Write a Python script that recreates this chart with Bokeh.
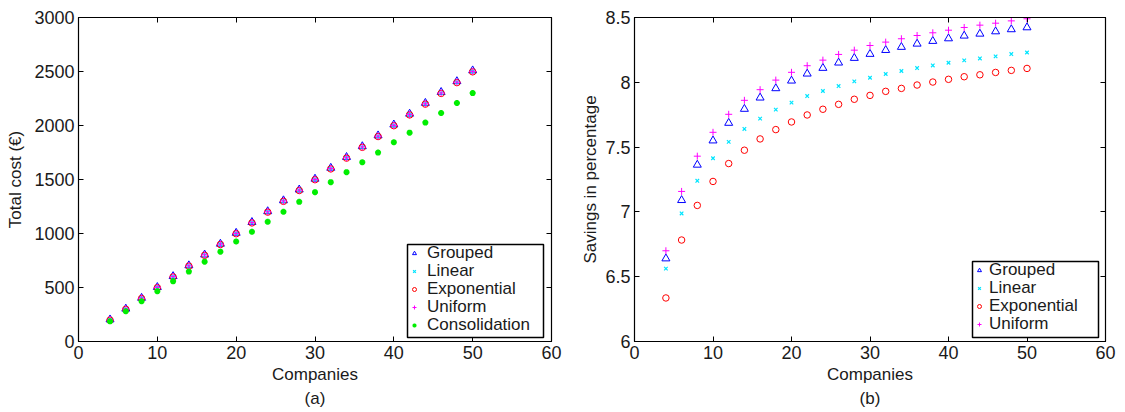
from bokeh.plotting import figure
from bokeh.models import (Range1d, LinearAxis, FixedTicker, CustomJSTickFormatter,
                          NumeralTickFormatter, Title, Legend, LegendItem, BoxAnnotation)
from bokeh.layouts import row
from bokeh.embed import file_html
from bokeh.resources import INLINE

companies = [4, 6, 8, 10, 12, 14, 16, 18, 20, 22, 24, 26, 28, 30, 32, 34, 36, 38, 40, 42, 44, 46, 48, 50]

# (a) total cost
cost_grouped = [203, 303, 403, 503, 604, 704, 804, 904, 1005, 1105, 1205, 1306, 1406, 1506, 1607, 1707, 1807, 1907, 2008, 2108, 2208, 2309, 2409, 2509]
cost_linear = [200, 300, 400, 500, 600, 700, 800, 900, 1000, 1100, 1200, 1300, 1400, 1500, 1600, 1700, 1800, 1900, 2000, 2100, 2200, 2300, 2400, 2500]
cost_exponential = [198, 298, 398, 498, 598, 698, 798, 898, 998, 1098, 1198, 1298, 1398, 1498, 1598, 1698, 1798, 1898, 1998, 2098, 2198, 2297, 2397, 2497]
cost_uniform = [201, 301, 401, 501, 601, 701, 801, 901, 1001, 1101, 1201, 1301, 1401, 1501, 1601, 1701, 1801, 1901, 2001, 2101, 2201, 2301, 2401, 2501]
cost_consolidation = [187, 280, 373, 465, 557, 647, 739, 832, 926, 1016, 1109, 1201, 1293, 1383, 1475, 1568, 1660, 1749, 1845, 1934, 2027, 2116, 2208, 2300]

# (b) savings in percentage
sav_grouped = [6.64, 7.09, 7.363, 7.55, 7.686, 7.794, 7.881, 7.953, 8.012, 8.066, 8.11, 8.151, 8.187, 8.218, 8.248, 8.272, 8.297, 8.318, 8.338, 8.359, 8.374, 8.392, 8.408, 8.423]
sav_linear = [6.562, 6.988, 7.24, 7.414, 7.54, 7.64, 7.72, 7.789, 7.843, 7.894, 7.933, 7.971, 8.007, 8.035, 8.064, 8.087, 8.11, 8.13, 8.151, 8.169, 8.184, 8.2, 8.218, 8.23]
sav_exponential = [6.336, 6.783, 7.05, 7.235, 7.373, 7.476, 7.563, 7.635, 7.694, 7.748, 7.792, 7.83, 7.869, 7.899, 7.93, 7.953, 7.979, 8.002, 8.023, 8.043, 8.058, 8.076, 8.092, 8.107]
sav_uniform = [6.70, 7.158, 7.43, 7.614, 7.753, 7.861, 7.943, 8.017, 8.077, 8.128, 8.171, 8.215, 8.248, 8.284, 8.31, 8.336, 8.361, 8.382, 8.402, 8.423, 8.441, 8.456, 8.474, 8.49]

x_ticks = [0, 10, 20, 30, 40, 50, 60]
cost_ticks = [0, 500, 1000, 1500, 2000, 2500, 3000]
sav_ticks = [6, 6.5, 7, 7.5, 8, 8.5]

FONT = "Liberation Sans"
TICK_FS = "18px"
LAB_FS = "17px"
LEG_FS = "17px"
TXT = "#1a1a1a"


def style_fig(p, xt, yt, ylabel, sub, ylab_standoff, yfmt=None):
    p.xaxis.ticker = FixedTicker(ticks=xt)
    p.yaxis.ticker = FixedTicker(ticks=yt)
    if yfmt is not None:
        p.yaxis.formatter = yfmt
    p.xaxis.axis_label = "Companies"
    p.yaxis.axis_label = ylabel
    for ax in [p.xaxis[0], p.yaxis[0]]:
        ax.major_tick_in = 5
        ax.major_tick_out = 0
        ax.minor_tick_line_color = None
        ax.major_label_text_font = FONT
        ax.major_label_text_font_size = TICK_FS
        ax.major_label_text_color = TXT
        ax.axis_label_text_font = FONT
        ax.axis_label_text_font_size = LAB_FS
        ax.axis_label_text_font_style = "normal"
        ax.axis_label_text_color = TXT
        ax.axis_line_color = "black"
        ax.major_tick_line_color = "black"
        ax.major_label_standoff = 4
    p.xaxis[0].axis_label_standoff = 3
    p.yaxis[0].axis_label_standoff = ylab_standoff
    blank = CustomJSTickFormatter(code="return ''")
    top = LinearAxis(ticker=FixedTicker(ticks=xt), formatter=blank,
                     major_tick_in=5, major_tick_out=0, minor_tick_line_color=None,
                     major_label_text_font_size="0px", major_label_standoff=0)
    right = LinearAxis(ticker=FixedTicker(ticks=yt), formatter=blank,
                       major_tick_in=5, major_tick_out=0, minor_tick_line_color=None,
                       major_label_text_font_size="0px", major_label_standoff=0)
    p.add_layout(top, "above")
    p.add_layout(right, "right")
    p.xgrid.grid_line_color = None
    p.ygrid.grid_line_color = None
    p.outline_line_color = "black"
    p.outline_line_width = 1.2
    p.add_layout(Title(text=sub, align="center", text_font=FONT, text_font_size=LAB_FS,
                       text_font_style="normal", text_color=TXT, standoff=0), "below")


def add_legend(p, entries, box, x0, row_centers, standoff):
    # box: (left, right, bottom, top) in frame pixels; rows stacked tightly like MATLAB
    left, right, bottom, top = box
    p.add_layout(BoxAnnotation(left=left, right=right, bottom=bottom, top=top,
                               left_units="screen", right_units="screen",
                               bottom_units="screen", top_units="screen",
                               fill_color="white", fill_alpha=1.0,
                               line_color="black", line_width=1.5, line_alpha=1.0))
    for (label, rend), yc in zip(entries, row_centers):
        lg = Legend(items=[LegendItem(label=label, renderers=[rend])],
                    location=(x0, yc - 9.5), padding=0, margin=0, spacing=0,
                    glyph_width=10, glyph_height=16, label_height=14,
                    label_standoff=standoff, label_text_font=FONT,
                    label_text_font_size=LEG_FS, label_text_color=TXT,
                    border_line_color=None, background_fill_alpha=0.0)
        p.add_layout(lg)


# ---------- (a) ----------
pa = figure(width=575, height=412, output_backend="svg", toolbar_location=None,
            x_range=Range1d(0, 60), y_range=Range1d(0, 3000),
            min_border_left=78, min_border_right=24, min_border_top=17, min_border_bottom=71)
ra1 = pa.scatter(companies, cost_grouped, marker="triangle", size=8, fill_color=None,
                 line_color="#0000ff", line_width=1)
ra2 = pa.scatter(companies, cost_linear, marker="x", size=5, line_color="#00e5ff",
                 line_width=1.2)
ra3 = pa.scatter(companies, cost_exponential, marker="circle", size=6.5, fill_color=None,
                 line_color="#ff0000", line_width=1)
ra4 = pa.scatter(companies, cost_uniform, marker="cross", size=7, line_color="#ff00ff",
                 line_width=1)
ra5 = pa.scatter(companies, cost_consolidation, marker="asterisk", size=6, line_color="#00ee00",
                 fill_color="#00ee00", line_width=2)
style_fig(pa, x_ticks, cost_ticks, "Total cost (€)", "(a)", 6)
add_legend(pa, [("Grouped", ra1), ("Linear", ra2), ("Exponential", ra3),
                ("Uniform", ra4), ("Consolidation", ra5)],
           box=(329, 465, 4, 97), x0=331, row_centers=[88, 70, 52, 34, 16], standoff=8)

# ---------- (b) ----------
pb = figure(width=550, height=412, output_backend="svg", toolbar_location=None,
            x_range=Range1d(0, 60), y_range=Range1d(6, 8.5),
            min_border_left=59, min_border_right=20, min_border_top=17, min_border_bottom=71)
rb1 = pb.scatter(companies, sav_grouped, marker="triangle", size=8, fill_color=None,
                 line_color="#0000ff", line_width=1)
rb2 = pb.scatter(companies, sav_linear, marker="x", size=5, line_color="#00e5ff",
                 line_width=1.2)
rb3 = pb.scatter(companies, sav_exponential, marker="circle", size=6.5, fill_color=None,
                 line_color="#ff0000", line_width=1)
rb4 = pb.scatter(companies, sav_uniform, marker="cross", size=7, line_color="#ff00ff",
                 line_width=1)
style_fig(pb, x_ticks, sav_ticks, "Savings in percentage", "(b)", 2,
          yfmt=NumeralTickFormatter(format="0.[0]"))
add_legend(pb, [("Grouped", rb1), ("Linear", rb2), ("Exponential", rb3), ("Uniform", rb4)],
           box=(338, 464, 4, 80), x0=340, row_centers=[70.5, 52.5, 34.5, 16.5], standoff=5)

layout = row(pa, pb)
open("out.html", "w").write(file_html(layout, INLINE))
